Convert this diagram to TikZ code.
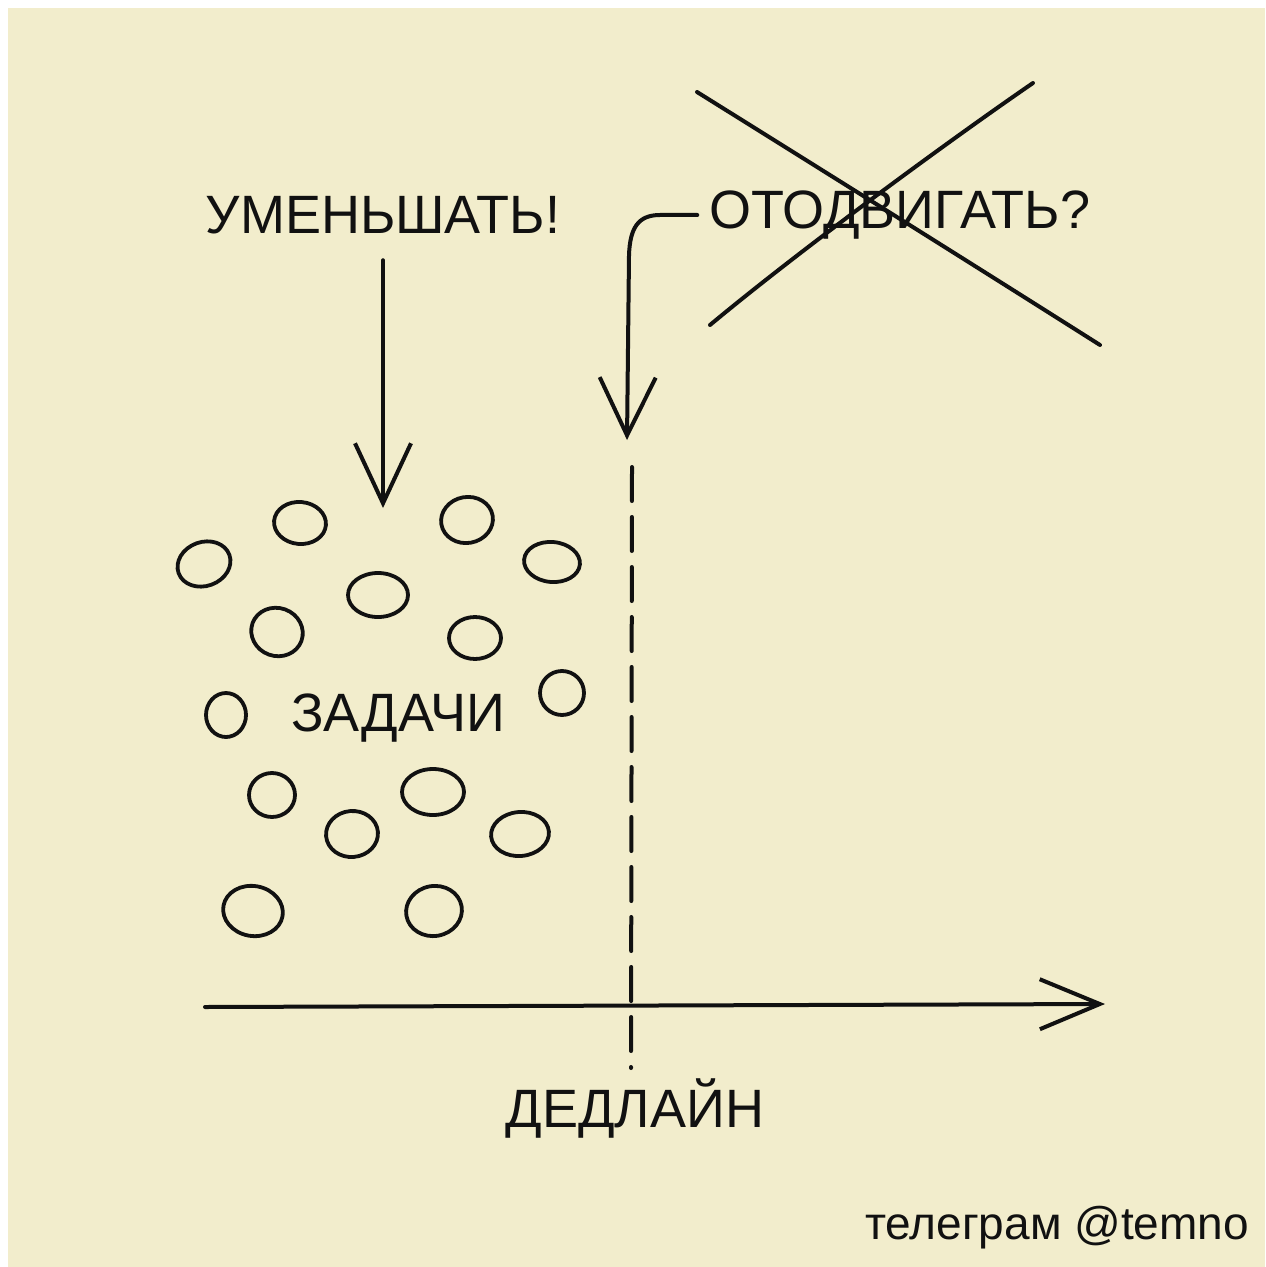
\documentclass[tikz,border=0pt]{standalone}
\usepackage{fontspec}
\setmainfont{Liberation Sans}
\usetikzlibrary{arrows.meta}
\definecolor{paper}{RGB}{242,237,204}
\definecolor{ink}{RGB}{17,17,17}
\tikzset{
  ink/.style={draw=ink, line width=2pt, line cap=round, line join=round},
  handtext/.style={text=ink, font=\fontsize{27}{30}\selectfont, inner sep=0pt},
  barb/.style={-{Straight Barb[length=#1pt, width=28pt, line width=2pt]}},
  task/.style={ink, line width=1.9pt}
}
\begin{document}
\begin{tikzpicture}[x=0.5pt, y=-0.5pt]
  \useasboundingbox (0,0) rectangle (1265,1267);
  \fill[white] (0,0) rectangle (1265,1267);
  \fill[paper] (8,8) rectangle (1265,1267);

  % texts
  \node[handtext] (t1) at (383,215) {УМЕНЬШАТЬ!};
  \node[handtext, inner xsep=6pt] (t2) at (900,215) {ОТОДВИГАТЬ?};
  \node[handtext] (tasks) at (398,718) {ЗАДАЧИ};
  \node[handtext] (deadline) at (635,1108) {ДЕДЛАЙН};
  \node[text=ink, font=\fontsize{23}{26}\selectfont, inner sep=0pt] (sig) at (1057,1228) {телеграм @temno};

  % crossing out
  \coordinate (xa) at (697,92);
  \coordinate (xb) at (1100,345);
  \coordinate (xc) at (1033,83);
  \coordinate (xd) at (710,325);
  \draw[ink] (xa) .. controls (790,150) and (950,250) .. (xb);
  \draw[ink] (xc) .. controls (950,140) and (800,250) .. (xd);

  % arrow 1: УМЕНЬШАТЬ -> tasks
  \coordinate (a1end) at (383,508);
  \draw[ink, barb=30, shorten <=13pt] (t1.south -| a1end) -- (a1end);

  % arrow 2: ОТОДВИГАТЬ -> deadline
  \coordinate (a2end) at (627,440);
  \draw[ink, barb=29] (t2.west) -- (660,215) .. controls (638,215) and (630,228) .. (629,255) -- (a2end);

  % deadline dashed line
  \coordinate (d0) at (632,467);
  \coordinate (d1) at (631,1068);
  \draw[ink, dash pattern=on 17pt off 8pt] (d0) -- (d1);

  % time axis
  \coordinate (ax0) at (205,1007);
  \coordinate (ax1) at (1105,1004);
  \draw[ink, -{Straight Barb[length=30pt, width=25pt, line width=2pt]}] (ax0) -- (ax1);

  % tasks (circles)
  \foreach \x/\y/\rx/\ry/\r in {
    300/523/26/21/-5, 204/564/27/22/20, 467/520/26/23/10, 552/562/28/20/-5,
    378/595/30/22/0, 277/632/26/24/-20, 475/638/26/21/0, 226/715/20/22/0,
    562/693/22/22/0, 272/795/23/22/0, 433/792/31/23/0, 352/834/26/23/5,
    520/834/29/22/5, 253/911/30/25/-10, 434/911/28/25/10}
  {
    \draw[task, rotate around={\r:(\x,\y)}] (\x,\y) ellipse [x radius=\rx, y radius=\ry];
  }
\end{tikzpicture}
\end{document}
